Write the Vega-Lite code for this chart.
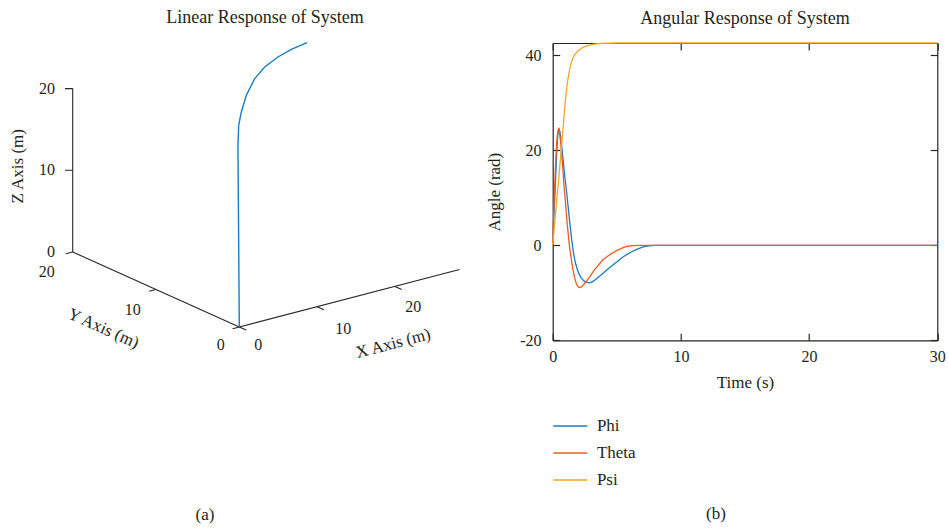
{
  "$schema": "https://vega.github.io/schema/vega-lite/v6.json",
  "padding": {"left": 0, "top": 9, "right": 0, "bottom": 0},
  "bounds": "flush",
  "spacing": 22.7,
  "datasets": {
    "scene3d": [
      {"kind": "axis", "seg": "xa", "p": 0, "X": 0, "Y": 0, "Z": 0},
      {"kind": "axis", "seg": "xa", "p": 1, "X": 28.3, "Y": 0, "Z": 0},
      {"kind": "axis", "seg": "ya", "p": 0, "X": 0, "Y": 0, "Z": 0},
      {"kind": "axis", "seg": "ya", "p": 1, "X": 0, "Y": 20, "Z": 0},
      {"kind": "axis", "seg": "za", "p": 0, "X": 0, "Y": 20, "Z": 0},
      {"kind": "axis", "seg": "za", "p": 1, "X": 0, "Y": 20, "Z": 20},
      {"kind": "axis", "seg": "tx0", "p": 0, "X": 0, "Y": 0, "Z": 0},
      {"kind": "axis", "seg": "tx0", "p": 1, "X": 0, "Y": -0.82, "Z": 0},
      {"kind": "axis", "seg": "tx10", "p": 0, "X": 10, "Y": 0, "Z": 0},
      {"kind": "axis", "seg": "tx10", "p": 1, "X": 10, "Y": -0.82, "Z": 0},
      {"kind": "axis", "seg": "tx20", "p": 0, "X": 20, "Y": 0, "Z": 0},
      {"kind": "axis", "seg": "tx20", "p": 1, "X": 20, "Y": -0.82, "Z": 0},
      {"kind": "axis", "seg": "ty0", "p": 0, "X": 0, "Y": 0, "Z": 0},
      {"kind": "axis", "seg": "ty0", "p": 1, "X": -0.87, "Y": 0, "Z": 0},
      {"kind": "axis", "seg": "ty10", "p": 0, "X": 0, "Y": 10, "Z": 0},
      {"kind": "axis", "seg": "ty10", "p": 1, "X": -0.87, "Y": 10, "Z": 0},
      {"kind": "axis", "seg": "ty20", "p": 0, "X": 0, "Y": 20, "Z": 0},
      {"kind": "axis", "seg": "ty20", "p": 1, "X": -0.87, "Y": 20, "Z": 0},
      {"kind": "axis", "seg": "tz10", "p": 0, "X": 0, "Y": 20, "Z": 10},
      {"kind": "axis", "seg": "tz10", "p": 1, "X": -0.63, "Y": 20.34, "Z": 10},
      {"kind": "axis", "seg": "tz20", "p": 0, "X": 0, "Y": 20, "Z": 20},
      {"kind": "axis", "seg": "tz20", "p": 1, "X": -0.63, "Y": 20.34, "Z": 20},
      {"kind": "traj", "X": 0, "Y": 0, "Z": 0},
      {"kind": "traj", "X": 0.02, "Y": 0.1, "Z": 11},
      {"kind": "traj", "X": 0.04, "Y": 0.2, "Z": 22.1},
      {"kind": "traj", "X": 0.137, "Y": 0.2, "Z": 24.56},
      {"kind": "traj", "X": 0.471, "Y": 0.2, "Z": 26.11},
      {"kind": "traj", "X": 1.114, "Y": 0.2, "Z": 27.99},
      {"kind": "traj", "X": 2.194, "Y": 0.2, "Z": 29.76},
      {"kind": "traj", "X": 3.479, "Y": 0.2, "Z": 30.86},
      {"kind": "traj", "X": 5.188, "Y": 0.2, "Z": 31.67},
      {"kind": "traj", "X": 6.898, "Y": 0.2, "Z": 32.18},
      {"kind": "traj", "X": 8.915, "Y": 0.2, "Z": 32.5},
      {"kind": "zl", "label": "0", "X": -1.45, "Y": 20.77, "Z": 0},
      {"kind": "zl", "label": "10", "X": -1.45, "Y": 20.77, "Z": 10},
      {"kind": "zl", "label": "20", "X": -1.45, "Y": 20.77, "Z": 20},
      {"kind": "xyl", "label": "20", "X": -3.34, "Y": 20, "Z": -1.63},
      {"kind": "xyl", "label": "10", "X": -3.0, "Y": 10, "Z": -1.81},
      {"kind": "xyl", "label": "0", "X": -2.39, "Y": 0, "Z": -1.65},
      {"kind": "xyl", "label": "0", "X": 0, "Y": -2.28, "Z": -1.19},
      {"kind": "xyl", "label": "10", "X": 10, "Y": -3.15, "Z": -1.24},
      {"kind": "xyl", "label": "20", "X": 20, "Y": -2.2, "Z": -1.5},
      {"kind": "tz", "label": "Z Axis (m)", "X": 0, "Y": 26.53, "Z": 7.49},
      {"kind": "ty", "label": "Y Axis (m)", "X": -4.632, "Y": 12, "Z": -4.553},
      {"kind": "tx", "label": "X Axis (m)", "X": 16.582, "Y": -3, "Z": -4.776}
    ],
    "angles": [
      {"series": "Phi", "t": 0, "angle": 0},
      {"series": "Phi", "t": 0.05, "angle": 3.3},
      {"series": "Phi", "t": 0.1, "angle": 6.6},
      {"series": "Phi", "t": 0.15, "angle": 9.4},
      {"series": "Phi", "t": 0.2, "angle": 12.2},
      {"series": "Phi", "t": 0.25, "angle": 15.6},
      {"series": "Phi", "t": 0.3, "angle": 18.8},
      {"series": "Phi", "t": 0.35, "angle": 21.4},
      {"series": "Phi", "t": 0.4, "angle": 23.2},
      {"series": "Phi", "t": 0.45, "angle": 24.2},
      {"series": "Phi", "t": 0.5, "angle": 24.5},
      {"series": "Phi", "t": 0.55, "angle": 24.1},
      {"series": "Phi", "t": 0.6, "angle": 23.2},
      {"series": "Phi", "t": 0.7, "angle": 21.0},
      {"series": "Phi", "t": 0.8, "angle": 18.3},
      {"series": "Phi", "t": 0.9, "angle": 15.6},
      {"series": "Phi", "t": 1.0, "angle": 13.2},
      {"series": "Phi", "t": 1.1, "angle": 10.8},
      {"series": "Phi", "t": 1.2, "angle": 8.2},
      {"series": "Phi", "t": 1.35, "angle": 4.3},
      {"series": "Phi", "t": 1.5, "angle": 0.8},
      {"series": "Phi", "t": 1.6, "angle": -1.2},
      {"series": "Phi", "t": 1.7, "angle": -2.8},
      {"series": "Phi", "t": 1.8, "angle": -4.0},
      {"series": "Phi", "t": 2.0, "angle": -5.7},
      {"series": "Phi", "t": 2.2, "angle": -6.8},
      {"series": "Phi", "t": 2.4, "angle": -7.4},
      {"series": "Phi", "t": 2.6, "angle": -7.75},
      {"series": "Phi", "t": 2.85, "angle": -7.9},
      {"series": "Phi", "t": 3.1, "angle": -7.7},
      {"series": "Phi", "t": 3.4, "angle": -7.1},
      {"series": "Phi", "t": 3.7, "angle": -6.4},
      {"series": "Phi", "t": 4.0, "angle": -5.7},
      {"series": "Phi", "t": 4.47, "angle": -4.6},
      {"series": "Phi", "t": 5.0, "angle": -3.5},
      {"series": "Phi", "t": 5.4, "angle": -2.6},
      {"series": "Phi", "t": 5.77, "angle": -1.95},
      {"series": "Phi", "t": 6.2, "angle": -1.3},
      {"series": "Phi", "t": 6.6, "angle": -0.8},
      {"series": "Phi", "t": 7.06, "angle": -0.35},
      {"series": "Phi", "t": 7.5, "angle": -0.12},
      {"series": "Phi", "t": 8.0, "angle": -0.03},
      {"series": "Phi", "t": 9.0, "angle": 0},
      {"series": "Phi", "t": 30, "angle": 0},
      {"series": "Theta", "t": 0, "angle": 0},
      {"series": "Theta", "t": 0.05, "angle": 4.5},
      {"series": "Theta", "t": 0.1, "angle": 8.5},
      {"series": "Theta", "t": 0.15, "angle": 12.0},
      {"series": "Theta", "t": 0.2, "angle": 15.5},
      {"series": "Theta", "t": 0.25, "angle": 18.5},
      {"series": "Theta", "t": 0.3, "angle": 21.0},
      {"series": "Theta", "t": 0.35, "angle": 22.8},
      {"series": "Theta", "t": 0.4, "angle": 24.0},
      {"series": "Theta", "t": 0.45, "angle": 24.5},
      {"series": "Theta", "t": 0.5, "angle": 24.2},
      {"series": "Theta", "t": 0.55, "angle": 23.3},
      {"series": "Theta", "t": 0.6, "angle": 22.2},
      {"series": "Theta", "t": 0.7, "angle": 19.2},
      {"series": "Theta", "t": 0.8, "angle": 15.8},
      {"series": "Theta", "t": 0.88, "angle": 12.5},
      {"series": "Theta", "t": 1.0, "angle": 8.8},
      {"series": "Theta", "t": 1.14, "angle": 4.3},
      {"series": "Theta", "t": 1.3, "angle": 0},
      {"series": "Theta", "t": 1.4, "angle": -2.0},
      {"series": "Theta", "t": 1.5, "angle": -3.8},
      {"series": "Theta", "t": 1.6, "angle": -5.4},
      {"series": "Theta", "t": 1.7, "angle": -6.7},
      {"series": "Theta", "t": 1.8, "angle": -7.7},
      {"series": "Theta", "t": 1.9, "angle": -8.4},
      {"series": "Theta", "t": 2.05, "angle": -8.9},
      {"series": "Theta", "t": 2.2, "angle": -8.8},
      {"series": "Theta", "t": 2.4, "angle": -8.3},
      {"series": "Theta", "t": 2.65, "angle": -7.5},
      {"series": "Theta", "t": 2.9, "angle": -6.6},
      {"series": "Theta", "t": 3.2, "angle": -5.4},
      {"series": "Theta", "t": 3.5, "angle": -4.4},
      {"series": "Theta", "t": 3.9, "angle": -3.1},
      {"series": "Theta", "t": 4.47, "angle": -1.95},
      {"series": "Theta", "t": 5.0, "angle": -1.1},
      {"series": "Theta", "t": 5.4, "angle": -0.6},
      {"series": "Theta", "t": 5.77, "angle": -0.25},
      {"series": "Theta", "t": 6.2, "angle": -0.08},
      {"series": "Theta", "t": 6.8, "angle": 0},
      {"series": "Theta", "t": 30, "angle": 0},
      {"series": "Psi", "t": 0, "angle": 0},
      {"series": "Psi", "t": 0.1, "angle": 3.0},
      {"series": "Psi", "t": 0.2, "angle": 6.0},
      {"series": "Psi", "t": 0.3, "angle": 9.0},
      {"series": "Psi", "t": 0.4, "angle": 12.0},
      {"series": "Psi", "t": 0.5, "angle": 15.0},
      {"series": "Psi", "t": 0.6, "angle": 18.1},
      {"series": "Psi", "t": 0.7, "angle": 21.3},
      {"series": "Psi", "t": 0.8, "angle": 24.5},
      {"series": "Psi", "t": 0.9, "angle": 27.7},
      {"series": "Psi", "t": 1.0, "angle": 30.8},
      {"series": "Psi", "t": 1.1, "angle": 33.3},
      {"series": "Psi", "t": 1.2, "angle": 35.2},
      {"series": "Psi", "t": 1.3, "angle": 36.7},
      {"series": "Psi", "t": 1.4, "angle": 37.9},
      {"series": "Psi", "t": 1.5, "angle": 38.9},
      {"series": "Psi", "t": 1.7, "angle": 40.1},
      {"series": "Psi", "t": 2.0, "angle": 41.0},
      {"series": "Psi", "t": 2.3, "angle": 41.6},
      {"series": "Psi", "t": 2.7, "angle": 42.0},
      {"series": "Psi", "t": 3.2, "angle": 42.35},
      {"series": "Psi", "t": 3.8, "angle": 42.5},
      {"series": "Psi", "t": 5.0, "angle": 42.6},
      {"series": "Psi", "t": 30, "angle": 42.6}
    ]
  },
  "hconcat": [
    {
      "width": 530,
      "height": 297.3,
      "title": {"text": "Linear Response of System"},
      "layer": [
        {
          "data": {"name": "scene3d"},
          "transform": [
            {"calculate": "0.9523*datum.X - 1.0196*datum.Y", "as": "u"},
            {"calculate": "0.2485*datum.X + 0.459*datum.Y + datum.Z", "as": "h"}
          ],
          "encoding": {
            "x": {"field": "u", "type": "quantitative", "scale": {"domain": [-29.29, 35.58], "nice": false, "zero": false}, "axis": null},
            "y": {"field": "h", "type": "quantitative", "scale": {"domain": [-1.628, 34.76], "nice": false, "zero": false}, "axis": null}
          },
          "layer": [
            {
              "transform": [{"filter": "datum.kind == 'axis'"}],
              "mark": {"type": "line", "color": "#262626", "strokeWidth": 1.1},
              "encoding": {"detail": {"field": "seg"}, "order": {"field": "p"}}
            },
            {
              "transform": [{"filter": "datum.kind == 'traj'"}],
              "mark": {"type": "line", "color": "#1a7bc4", "strokeWidth": 1.4},
              "encoding": {"order": {"field": "Z"}}
            },
            {
              "transform": [{"filter": "datum.kind == 'zl'"}],
              "mark": {"type": "text", "align": "right", "baseline": "middle", "fontSize": 16, "color": "#231f20"},
              "encoding": {"text": {"field": "label"}}
            },
            {
              "transform": [{"filter": "datum.kind == 'xyl'"}],
              "mark": {"type": "text", "align": "center", "baseline": "middle", "fontSize": 16, "color": "#231f20"},
              "encoding": {"text": {"field": "label"}}
            },
            {
              "transform": [{"filter": "datum.kind == 'tz'"}],
              "mark": {"type": "text", "align": "center", "baseline": "middle", "fontSize": 17, "angle": 270, "color": "#231f20"},
              "encoding": {"text": {"field": "label"}}
            },
            {
              "transform": [{"filter": "datum.kind == 'ty'"}],
              "mark": {"type": "text", "align": "center", "baseline": "middle", "fontSize": 17, "angle": 24, "color": "#231f20"},
              "encoding": {"text": {"field": "label"}}
            },
            {
              "transform": [{"filter": "datum.kind == 'tx'"}],
              "mark": {"type": "text", "align": "center", "baseline": "middle", "fontSize": 17, "angle": 345.4, "color": "#231f20"},
              "encoding": {"text": {"field": "label"}}
            }
          ]
        },
        {
          "data": {"values": [{"cap": "(a)"}]},
          "mark": {"type": "text", "align": "center", "baseline": "middle", "fontSize": 17, "color": "#231f20"},
          "encoding": {
            "x": {"datum": -4.2, "type": "quantitative", "axis": null},
            "y": {"datum": -23.07, "type": "quantitative", "axis": null},
            "text": {"field": "cap"}
          }
        }
      ]
    },
    {
      "width": 384.6,
      "height": 297.3,
      "title": {"text": "Angular Response of System"},
      "data": {"name": "angles"},
      "resolve": {"axis": {"x": "independent", "y": "independent"}},
      "layer": [
        {
          "mark": {"type": "line", "strokeWidth": 1.3},
          "encoding": {
            "x": {"field": "t", "type": "quantitative", "scale": {"domain": [0, 30], "nice": false, "zero": false},
                  "axis": {"orient": "bottom", "values": [0, 10, 20, 30], "title": "Time (s)", "labelPadding": 15.7, "titlePadding": 9.3}},
            "y": {"field": "angle", "type": "quantitative", "scale": {"domain": [-20, 42.6], "nice": false, "zero": false},
                  "axis": {"orient": "left", "values": [-20, 0, 20, 40], "title": "Angle (rad)", "labelPadding": 18.6, "titlePadding": 16,
                           "labelExpr": "replace(datum.label, '\u2212', '-')"}},
            "color": {"field": "series", "type": "nominal",
                      "scale": {"domain": ["Phi", "Theta", "Psi"], "range": ["#1a7bc4", "#ee5a24", "#f5a623"]},
                      "legend": {"title": null, "orient": "none", "legendX": 552.3, "legendY": 369.5, "direction": "vertical",
                                 "symbolType": "stroke", "symbolSize": 1156, "symbolStrokeWidth": 1.3, "clipHeight": 27,
                                 "rowPadding": 0, "labelFontSize": 17, "labelOffset": 8.6, "labelColor": "#231f20",
                                 "labelFont": "Liberation Serif", "padding": 0}}
          }
        },
        {
          "mark": {"type": "point", "opacity": 0},
          "encoding": {
            "x": {"field": "t", "type": "quantitative", "axis": {"orient": "top", "values": [0, 10, 20, 30], "labels": false, "title": null, "tickSize": -7}},
            "y": {"field": "angle", "type": "quantitative", "axis": {"orient": "right", "values": [-20, 0, 20, 40], "labels": false, "title": null, "tickSize": -7}}
          }
        },
        {
          "data": {"values": [{"cap": "(b)"}]},
          "mark": {"type": "text", "align": "center", "baseline": "middle", "fontSize": 17, "color": "#231f20"},
          "encoding": {
            "x": {"datum": 12.73, "type": "quantitative", "axis": null},
            "y": {"datum": -56.5, "type": "quantitative", "axis": null},
            "text": {"field": "cap"}
          }
        }
      ]
    }
  ],
  "config": {
    "font": "Liberation Serif",
    "view": {"stroke": null},
    "title": {"fontSize": 18, "fontWeight": "normal", "color": "#231f20", "anchor": "middle", "baseline": "alphabetic", "offset": 12.6},
    "axis": {
      "labelFont": "Liberation Serif", "labelFontSize": 16, "labelColor": "#231f20",
      "titleFont": "Liberation Serif", "titleFontSize": 17, "titleFontWeight": "normal", "titleColor": "#231f20",
      "domainColor": "#262626", "domainWidth": 1.2, "tickColor": "#262626", "tickWidth": 1.2, "tickSize": -7,
      "grid": false, "labelFlush": false, "labelOverlap": false
    }
  }
}
